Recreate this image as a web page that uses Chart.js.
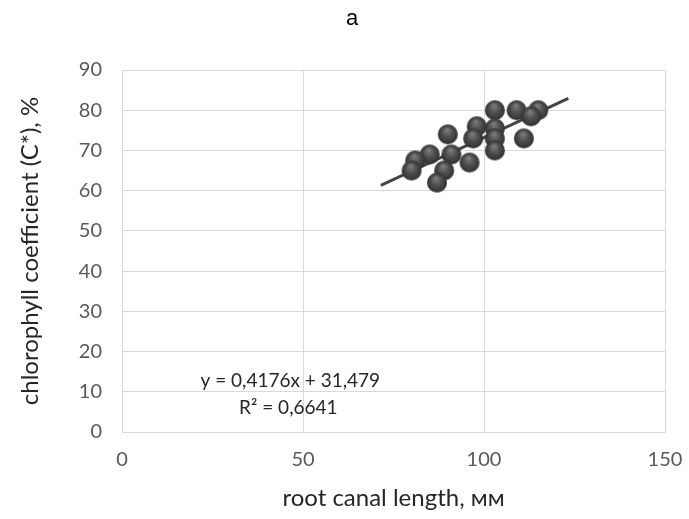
<!DOCTYPE html>
<html>
<head>
<meta charset="utf-8">
<script src="https://cdn.jsdelivr.net/npm/chart.js@4.4.1/dist/chart.umd.min.js"></script>
<style>
  html, body { margin: 0; padding: 0; background: #fff; }
  #wrap { width: 689px; height: 519px; }
</style>
</head>
<body>
<div id="wrap"><canvas id="c" width="689" height="519"></canvas></div>
<script>
// data
const rootLength = [103, 109, 115, 113, 98, 103, 90, 97, 103, 111, 103, 85, 91, 96, 81, 80, 89, 87]
const chlorophyll = [80, 80, 80, 78.5, 76, 75.5, 74, 73, 73, 73, 70, 69, 69, 67, 67.5, 65, 65, 62]
const xTicks = [0, 50, 100, 150]
const yTicks = [0, 10, 20, 30, 40, 50, 60, 70, 80, 90]
const slope = 0.4176
const intercept = 31.479
const rSquared = "0,6641"
const trendX = [71.5, 123.3]

const points = rootLength.map((x, i) => ({ x: x, y: chlorophyll[i] }))
const trend = trendX.map(x => ({ x: x, y: slope * x + intercept }))

// sphere-like marker
function makeBall(r) {
  const c = document.createElement("canvas")
  c.width = c.height = r * 2 + 2
  const g = c.getContext("2d")
  const cx = r + 1, cy = r + 1
  const grad = g.createRadialGradient(cx - r * 0.1, cy - r * 0.45, r * 0.1, cx, cy, r)
  grad.addColorStop(0, "#7a7a7a")
  grad.addColorStop(0.45, "#515151")
  grad.addColorStop(1, "#303030")
  g.fillStyle = grad
  g.beginPath()
  g.arc(cx, cy, r, 0, Math.PI * 2)
  g.fill()
  return c
}
const ball = makeBall(10)

const font = "Lato, 'Open Sans', sans-serif"

const textPlugin = {
  id: "texts",
  afterDraw(chart) {
    const ctx = chart.ctx
    ctx.save()
    ctx.fillStyle = "#000"
    ctx.font = "22px Arial, 'Liberation Sans', sans-serif"
    ctx.textAlign = "center"
    ctx.textBaseline = "middle"
    ctx.fillText("a", 352, 19)
    ctx.fillStyle = "#262626"
    ctx.font = "19px " + font
    const s = chart.scales
    const ex = s.x.getPixelForValue(46.5)
    ctx.fillText("y = " + slope.toString().replace(".", ",") + "x + " + intercept.toString().replace(".", ","), ex, s.y.getPixelForValue(12.6))
    ctx.fillText("R² = " + rSquared, ex - 2, s.y.getPixelForValue(5.9))
    ctx.restore()
  }
}

new Chart(document.getElementById("c"), {
  type: "scatter",
  data: {
    datasets: [
      {
        label: "trend",
        type: "line",
        data: trend,
        borderColor: "#454545",
        borderWidth: 3,
        pointRadius: 0,
        fill: false,
        order: 2
      },
      {
        label: "data",
        data: points,
        pointStyle: ball,
        pointRadius: 10,
        order: 1
      }
    ]
  },
  options: {
    responsive: false,
    animation: false,
    layout: { padding: { top: 70, right: 24, left: 0, bottom: 0 } },
    plugins: { legend: { display: false }, tooltip: { enabled: false }, title: { display: false } },
    scales: {
      x: {
        type: "linear",
        min: 0,
        max: 150,
        afterBuildTicks: s => { s.ticks = xTicks.map(v => ({ value: v })) },
        afterFit: s => { s.height = 87; s.paddingLeft = 0; s.paddingRight = 0 },
        grid: { color: "#d9d9d9", drawTicks: false },
        border: { color: "#d9d9d9" },
        ticks: { color: "#595959", font: { family: font, size: 20 }, padding: 16 },
        title: { display: true, text: "root canal length, мм", color: "#262626", font: { family: font, size: 24 }, padding: { top: 0, bottom: 6 } }
      },
      y: {
        min: 0,
        max: 90,
        afterBuildTicks: s => { s.ticks = yTicks.map(v => ({ value: v })) },
        afterFit: s => { s.width = 122; s.paddingTop = 0; s.paddingBottom = 0 },
        grid: { color: "#d9d9d9", drawTicks: false },
        border: { color: "#d9d9d9" },
        ticks: { color: "#595959", font: { family: font, size: 20 }, padding: 20 },
        title: { display: true, text: "chlorophyll coefficient (C*), %", color: "#262626", font: { family: font, size: 24 }, padding: { top: 16, bottom: 0 } }
      }
    }
  },
  plugins: [textPlugin]
})
</script>
</body>
</html>
